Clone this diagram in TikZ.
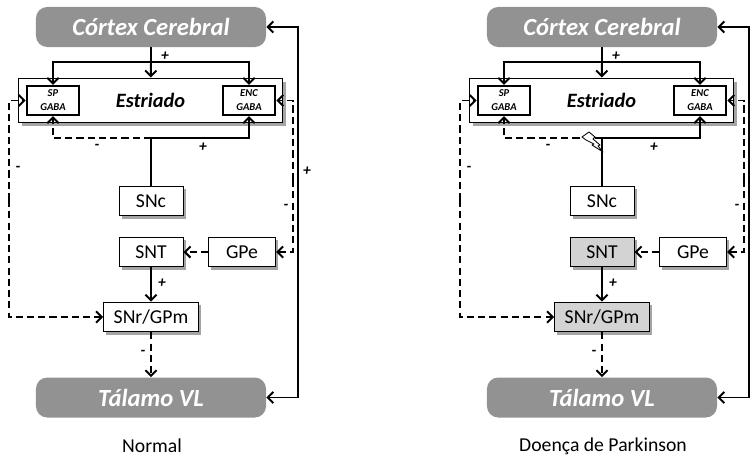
\documentclass[tikz,border=0pt]{standalone}
\usepackage{fontspec}
\setmainfont{Carlito}
\usetikzlibrary{arrows.meta,shadows}
\definecolor{cinzaescuro}{RGB}{146,146,146}
\definecolor{cinzaclaro}{RGB}{211,211,211}
\definecolor{sombra}{RGB}{165,165,165}
\tikzset{
  regiao/.style={fill=cinzaescuro, rounded corners=8pt, text=white,
    font=\fontsize{17.5}{19}\selectfont\bfseries\itshape,
    minimum width=5.75cm, minimum height=1cm},
  nucleo/.style={draw, line width=0.7pt, fill=#1, inner sep=0pt,
    font=\fontsize{14}{16}\selectfont, minimum height=0.74cm,
    drop shadow={shadow xshift=2pt, shadow yshift=-2pt, fill=sombra, opacity=1}},
  nucleo/.default=white,
  gaba/.style={draw, line width=1.8pt, fill=white, align=center, inner sep=0pt,
    font=\fontsize{7.5}{10}\selectfont\bfseries\itshape,
    minimum width=1.3cm, minimum height=0.72cm},
  linha/.style={line width=1.4pt},
  seta/.style={linha, -{Straight Barb[length=4pt,width=8pt]}},
  tracejada/.style={seta, dash pattern=on 5pt off 3pt},
  sinal/.style={font=\fontsize{11}{12}\selectfont\bfseries\itshape, inner sep=0pt}
}
\begin{document}
\begin{tikzpicture}[x=0.025cm, y=-0.025cm]
\useasboundingbox (0,0) rectangle (753,461);
\foreach \dx/\cor/\titulo in {0/white/Normal, 451/cinzaclaro/Doença de Parkinson}{
  \begin{scope}[shift={(\dx,0)}]
    % caixas
    \node[regiao] (cortex) at (151,27) {Córtex Cerebral};
    \node[draw, line width=0.7pt, fill=white, minimum width=6.6cm, minimum height=1.1cm,
      font=\fontsize{14.5}{16}\selectfont\bfseries\itshape,
      drop shadow={shadow xshift=2.5pt, shadow yshift=-2.5pt, fill=sombra, opacity=1}]
      (estriado) at (150.5,100) {Estriado};
    \node[gaba] (sp) at (53,100.5) {SP\\GABA};
    \node[gaba] (enc) at (249,100.5) {ENC\\GABA};
    \node[nucleo, minimum width=1.6cm] (snc) at (151,201) {SNc};
    \node[nucleo=\cor, minimum width=1.6cm] (snt) at (151,252) {SNT};
    \node[nucleo, minimum width=1.68cm] (gpe) at (242,252) {GPe};
    \node[nucleo=\cor, minimum width=2.37cm] (snr) at (151,317) {SNr/GPm};
    \node[regiao] (talamo) at (151,397.5) {Tálamo VL};
    \node[font=\fontsize{14}{16}\selectfont] (titulo) at (152,446) {\titulo};
    % pontos de ramificacao
    \coordinate (cima) at (151,62);
    \coordinate (baixo) at (151,138);
    \coordinate (esq) at (9,200);
    \coordinate (dir) at (293,180);
    \coordinate (volta) at (298,200);
    % ligacoes
    \draw[linha] (cortex) -- (cima);
    \draw[seta] (cima) -- (estriado);
    \draw[seta] (cima) -| (sp);
    \draw[seta] (cima) -| (enc);
    \draw[linha] (snc) -- (baixo);
    \draw[seta] (baixo) -| (enc);
    \draw[tracejada] (baixo) -| (sp);
    \draw[tracejada] (esq) |- (sp);
    \draw[tracejada] (esq) |- (snr);
    \draw[tracejada] (dir) |- (enc);
    \draw[tracejada] (dir) |- (gpe);
    \draw[seta] (volta) |- (cortex);
    \draw[seta] (volta) |- (talamo);
    \draw[tracejada] (gpe) -- (snt);
    \draw[seta] (snt) -- (snr);
    \draw[tracejada] (snr) -- (talamo);
    % sinais
    \node[sinal] (maisCortex) at (165,56) {+};
    \node[sinal] (menosSP) at (97,147) {-};
    \node[sinal] (maisENC) at (203,147) {+};
    \node[sinal] (menosEsq) at (18,169) {-};
    \node[sinal] (menosDir) at (286,207) {-};
    \node[sinal] (maisSNT) at (162,283) {+};
    \node[sinal] (menosSNr) at (143,353) {-};
    \ifnum\dx=0 \node[sinal] (maisVolta) at (307,171) {+}; \fi
  \end{scope}
}
% raio (Parkinson)
\draw[line width=0.6pt, fill=white, line join=round]
  (582,137) -- (589,132) -- (595,137) -- (593,139) -- (600,145) -- (598,146)
  -- (603,152) -- (592,145) -- (594,144) -- (586,140) -- cycle;
\end{tikzpicture}
\end{document}
